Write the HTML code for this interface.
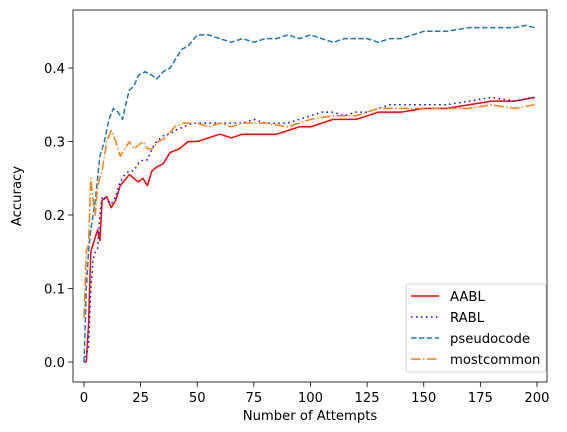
<!DOCTYPE html>
<html><head><meta charset="utf-8"><style>
html,body{margin:0;padding:0;background:#fff;}
svg{display:block;font-family:"DejaVu Sans","Liberation Sans",sans-serif;}
</style></head><body>
<svg id="chart" width="567" height="432">
<rect x="0" y="0" width="567" height="432" fill="#fff"/>
<g id="plot"></g>
<g id="axes"></g>
<g id="legend"></g>
</svg>
<script>
const xTicks = [0, 25, 50, 75, 100, 125, 150, 175, 200];
const yTicks = [0.0, 0.1, 0.2, 0.3, 0.4];
const yTickLabels = ["0.0", "0.1", "0.2", "0.3", "0.4"];
const seriesNames = ["AABL", "RABL", "pseudocode", "mostcommon"];
const aablX = [0,1,2,3,4,6,7,8,10,12,14,16,20,22,24,26,28,30,32,35,38,42,46,50,55,60,65,70,75,80,85,90,95,100,105,110,115,120,125,130,140,150,160,170,180,190,199];
const aablY = [0,0,0.05,0.15,0.16,0.18,0.165,0.22,0.225,0.21,0.22,0.24,0.255,0.25,0.245,0.25,0.24,0.26,0.265,0.27,0.285,0.29,0.30,0.30,0.305,0.31,0.305,0.31,0.31,0.31,0.31,0.315,0.32,0.32,0.325,0.33,0.33,0.33,0.335,0.34,0.34,0.345,0.345,0.35,0.355,0.355,0.36];
const rablX = [0,2,3,4,5,6,7,8,10,12,14,16,18,20,22,24,26,28,30,32,34,36,38,40,44,48,55,60,70,75,80,90,95,100,105,110,115,120,125,130,135,150,160,170,180,190,199];
const rablY = [0,0.02,0.1,0.14,0.15,0.155,0.2,0.225,0.22,0.215,0.225,0.245,0.255,0.26,0.26,0.27,0.275,0.275,0.29,0.3,0.305,0.31,0.31,0.315,0.32,0.325,0.325,0.325,0.325,0.33,0.325,0.325,0.33,0.335,0.34,0.34,0.335,0.34,0.34,0.345,0.35,0.35,0.35,0.355,0.36,0.355,0.36];
const pseudoX = [0,1,2,3,4,5,6,7,9,11,13,15,17,18,20,22,24,27,30,32,35,38,40,43,46,50,55,60,65,70,75,80,85,90,95,100,105,110,115,120,125,130,135,140,145,150,160,170,180,190,195,199];
const pseudoY = [0,0.1,0.15,0.18,0.2,0.22,0.25,0.28,0.3,0.33,0.345,0.34,0.33,0.345,0.37,0.375,0.39,0.395,0.39,0.385,0.395,0.4,0.41,0.425,0.43,0.445,0.445,0.44,0.435,0.44,0.435,0.44,0.44,0.445,0.44,0.445,0.44,0.435,0.44,0.44,0.44,0.435,0.44,0.44,0.445,0.45,0.45,0.455,0.455,0.455,0.458,0.455];
const mostX = [0,1,2,3,4,5,6,8,10,12,14,16,18,20,22,24,26,28,30,33,36,40,44,50,55,60,65,70,80,90,95,100,110,120,125,130,140,150,160,170,180,190,199];
const mostY = [0.06,0.15,0.16,0.25,0.22,0.2,0.24,0.26,0.3,0.315,0.3,0.28,0.29,0.3,0.29,0.295,0.3,0.29,0.29,0.3,0.305,0.32,0.325,0.325,0.32,0.325,0.32,0.325,0.325,0.32,0.325,0.33,0.335,0.335,0.34,0.345,0.345,0.345,0.345,0.345,0.35,0.345,0.35];

const L=73,R=547,T=10,B=382;
const FS=13.2;
const sx = v => 84 + v*(537-84)/200;
const sy = v => 362 - v*735;
const NS="http://www.w3.org/2000/svg";
function mk(tag, attrs, parent){const e=document.createElementNS(NS,tag);for(const k in attrs)e.setAttribute(k,attrs[k]);parent.appendChild(e);return e;}
const plot=document.getElementById('plot'), axes=document.getElementById('axes'), legend=document.getElementById('legend');

const styles=[
 {c:"#ff0000",d:"",w:1.5},
 {c:"#0000ff",d:"1.5,3.5",w:1.5},
 {c:"#1f77b4",d:"5.5,2.4",w:1.5},
 {c:"#ff7f0e",d:"9.6,2.4,1.5,2.4",w:1.5}];
const xs=[aablX,rablX,pseudoX,mostX], ys=[aablY,rablY,pseudoY,mostY];
const lineNames=['aabl-line','rabl-line','pseudocode-line','mostcommon-line'];
for(let s=0;s<4;s++){
  const pts=xs[s].map((x,i)=>sx(x).toFixed(1)+","+sy(ys[s][i]).toFixed(1)).join(" ");
  const p=mk('polyline',{points:pts,fill:"none",stroke:styles[s].c,"stroke-width":styles[s].w,"stroke-dasharray":styles[s].d,"stroke-linejoin":"round"},plot);
  
  
}
const frame=mk('rect',{x:L,y:T,width:R-L,height:B-T,fill:"none",stroke:"#000","stroke-width":0.8},axes);


xTicks.forEach(t=>{
  const x=sx(t);
  const tk=mk('line',{x1:x,x2:x,y1:B,y2:B+4.9,stroke:"#000","stroke-width":0.8},axes);
  
  
  const tx=mk('text',{x:x,y:B+20,"text-anchor":"middle","font-size":FS,fill:"#000"},axes);
  tx.textContent=t;
  
  
});
yTicks.forEach((t,i)=>{
  const y=sy(t);
  const tk=mk('line',{x1:L-4.9,x2:L,y1:y,y2:y,stroke:"#000","stroke-width":0.8},axes);
  
  
  const tx=mk('text',{x:L-8,y:y+4.8,"text-anchor":"end","font-size":FS,fill:"#000"},axes);
  tx.textContent=yTickLabels[i];
  
  
});
const xt=mk('text',{x:(L+R)/2,y:420,"text-anchor":"middle","font-size":FS,fill:"#000"},axes);
xt.textContent="Number of Attempts";


const yt=mk('text',{x:0,y:0,"text-anchor":"middle","font-size":FS,fill:"#000",transform:"translate(21,"+((T+B)/2)+") rotate(-90)"},axes);
yt.textContent="Accuracy";



const lb=mk('rect',{x:406,y:284,width:140,height:88,rx:2.5,fill:"#fff","fill-opacity":0.8,stroke:"#ccc","stroke-width":0.8},legend);


seriesNames.forEach((n,i)=>{
  const y=296+i*21;
  const ln=mk('line',{x1:411,x2:439,y1:y,y2:y,stroke:styles[i].c,"stroke-width":1.5,"stroke-dasharray":styles[i].d},legend);
  
  
  const tx=mk('text',{x:450,y:y+4.8,"font-size":FS,fill:"#000"},legend);
  tx.textContent=n;
  
  
});
</script>
</body></html>
